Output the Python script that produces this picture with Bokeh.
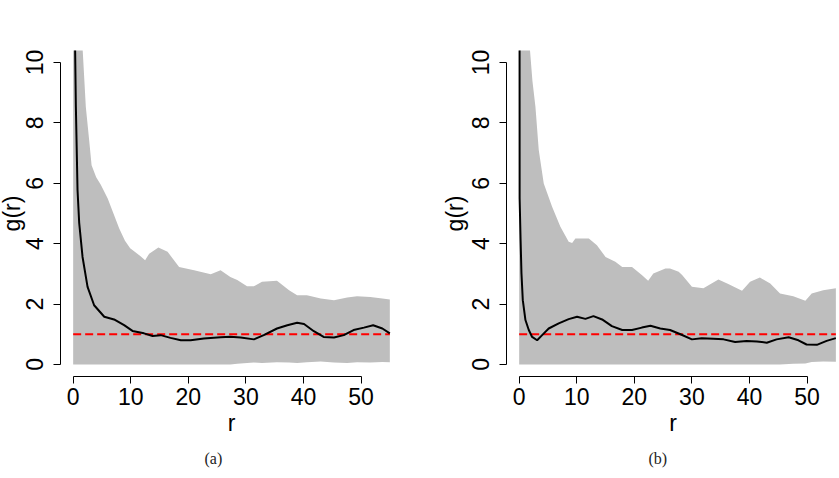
from bokeh.plotting import figure
from bokeh.layouts import row
from bokeh.models import Range1d, FixedTicker, Title
from bokeh.embed import file_html
from bokeh.resources import INLINE

# ---------------- data ----------------
# panel (a)
env_r_a = [0, 1.0, 1.6, 2.2, 2.78, 3.2, 4.0, 4.8, 6.0, 7.0, 8.0, 9.0, 9.9, 11.6, 12.5, 13.2, 14.8,
           16.4, 18.4, 21.0, 23.9, 25.6, 27.3, 28.5, 30.2, 31.4, 32.8, 35.4, 37.5,
           38.9, 40.6, 43.0, 45.3, 47.6, 49.3, 51.6, 53.7, 55.0]
env_hi_a = [40, 20, 10.6, 8.53, 7.43, 6.6, 6.2, 5.95, 5.5, 5.0, 4.5, 4.1, 3.85, 3.6, 3.45, 3.67, 3.87,
            3.73, 3.23, 3.12, 2.99, 3.12, 2.90, 2.80, 2.59, 2.59, 2.74, 2.77, 2.46,
            2.29, 2.29, 2.18, 2.13, 2.22, 2.26, 2.23, 2.18, 2.15]
env_lo_a = [0, 0, 0, 0, 0, 0, 0, 0, 0, 0, 0, 0, 0, 0, 0, 0, 0,
            0, 0, 0, 0, 0, 0, 0.02, 0.05, 0.06, 0.05, 0.07, 0.06,
            0.05, 0.07, 0.1, 0.06, 0.05, 0.07, 0.06, 0.08, 0.07]
g_r_a = [0.15, 0.3, 0.47, 0.76, 1.05, 1.63, 2.5, 3.64, 5.4, 7.1, 8.85, 10.3, 12.3, 13.8,
         15.2, 16.9, 18.7, 20.4, 22.7, 25.6, 27.3, 29.1, 31.4, 33.1, 35.4, 37.2, 38.9,
         40.1, 41.8, 43.5, 45.3, 47.0, 48.7, 50.5, 52.1, 53.7, 55.0]
g_a = [25, 11, 8.53, 5.77, 4.68, 3.56, 2.57, 1.96, 1.58, 1.49, 1.30, 1.11, 1.03, 0.94,
       0.97, 0.88, 0.80, 0.80, 0.86, 0.90, 0.92, 0.89, 0.83, 0.97, 1.19, 1.30, 1.38,
       1.34, 1.10, 0.91, 0.89, 0.97, 1.14, 1.22, 1.30, 1.19, 1.03]

# panel (b)
env_r_b = [0, 1.0, 1.8, 2.3, 2.83, 3.4, 4.27, 5.72, 7.16, 8.6, 9.2, 9.76, 12.1, 13.5, 15.0,
           16.7, 17.9, 19.6, 21.3, 22.4, 23.3, 25.4, 26.2, 27.7, 28.3, 30.0, 32.0,
           34.6, 36.4, 38.7, 40.1, 41.8, 43.6, 45.3, 47.6, 49.7, 50.8, 52.8, 55.0]
env_hi_b = [40, 20, 10.6, 9.4, 8.53, 7.1, 5.99, 5.22, 4.56, 4.06, 4.02, 4.17, 4.17, 3.95, 3.56,
            3.40, 3.23, 3.23, 2.96, 2.77, 3.01, 3.18, 3.18, 3.07, 2.96, 2.57, 2.52,
            2.81, 2.66, 2.44, 2.74, 2.88, 2.68, 2.35, 2.26, 2.11, 2.35, 2.46, 2.52]
env_lo_b = [0, 0, 0, 0, 0, 0, 0, 0, 0, 0, 0, 0, 0, 0, 0,
            0, 0, 0, 0, 0, 0, 0, 0, 0, 0, 0, 0,
            0, 0, 0, 0, 0, 0, 0, 0.02, 0.03, 0.08, 0.1, 0.09]
g_r_b = [0.03, 0.08, 0.25, 0.40, 0.63, 1.09, 1.67, 2.25, 3.12, 3.99, 5.13, 6.87, 8.6,
         10.06, 11.5, 12.9, 14.4, 16.1, 17.9, 19.6, 21.3, 22.8, 24.5, 26.2, 28.0, 30.0,
         31.7, 33.7, 35.5, 37.5, 39.5, 41.3, 43.0, 44.7, 46.8, 48.5, 49.9, 51.7, 53.4, 55.0]
g_b = [30, 5.5, 4.1, 3.01, 2.13, 1.47, 1.14, 0.91, 0.80, 0.97, 1.19, 1.36, 1.50,
       1.58, 1.51, 1.60, 1.49, 1.27, 1.14, 1.14, 1.22, 1.28, 1.19, 1.14, 1.0, 0.83,
       0.87, 0.85, 0.83, 0.74, 0.78, 0.76, 0.72, 0.83, 0.90, 0.80, 0.66, 0.65, 0.78, 0.87]

ref_r = [0, 55]
ref_g = [1, 1]

x_ticks = [0, 10, 20, 30, 40, 50]
y_ticks = [0, 2, 4, 6, 8, 10]

FONT = "Liberation Sans"


def panel(r_env, hi, lo, r_g, g, x_end, width, left, right, caption, cap_offset, margin,
          title_standoff):
    p = figure(width=width, height=478,
               x_range=Range1d(-2.2, x_end), y_range=Range1d(-0.4, 10.4),
               output_backend="svg", toolbar_location=None,
               min_border_left=left, min_border_right=right,
               min_border_top=50, min_border_bottom=102, margin=margin)
    p.outline_line_color = None
    p.xgrid.visible = False
    p.ygrid.visible = False
    p.background_fill_color = "white"
    p.border_fill_color = "white"

    p.varea(x=r_env, y1=lo, y2=hi, fill_color="#BEBEBE")
    p.line(ref_r, ref_g, line_color="#FF0000", line_width=2, line_dash="8 4")
    p.line(r_g, g, line_color="black", line_width=2)

    for ax, ticks, bnds in ((p.xaxis[0], x_ticks, (0, 50)), (p.yaxis[0], y_ticks, (0, 10))):
        ax.ticker = FixedTicker(ticks=ticks)
        ax.bounds = bnds
        ax.axis_line_color = "black"
        ax.axis_line_width = 1
        ax.major_tick_line_color = "black"
        ax.major_tick_out = 7
        ax.major_tick_in = 0
        ax.minor_tick_line_color = None
        ax.major_label_text_font = FONT
        ax.major_label_text_font_size = "23px"
        ax.major_label_text_color = "black"
        ax.axis_label_text_font = FONT
        ax.axis_label_text_font_size = "23px"
        ax.axis_label_text_font_style = "normal"
        ax.axis_label_text_color = "black"

    p.xaxis.axis_label = "r"
    p.xaxis.major_label_standoff = 4
    p.xaxis.axis_label_standoff = 2
    p.yaxis.axis_label = "g(r)"
    p.yaxis.major_label_orientation = "vertical"
    p.yaxis.major_label_standoff = 10
    p.yaxis.axis_label_standoff = title_standoff

    p.add_layout(Title(text=caption, align="left", offset=cap_offset, standoff=18,
                       text_font="Liberation Serif", text_font_size="16px",
                       text_font_style="normal", text_color="#222222"), "below")
    return p


pa = panel(env_r_a, env_hi_a, env_lo_a, g_r_a, g_a, 57.2, 425, 65, 18, "(a)", 144,
           (0, 0, 0, -5), -1)
pb = panel(env_r_b, env_hi_b, env_lo_b, g_r_b, g_b, 55.63, 419, 86, 0, "(b)", 142, 0, 2)

layout = row(pa, pb)
open("out.html", "w").write(file_html(layout, INLINE))
